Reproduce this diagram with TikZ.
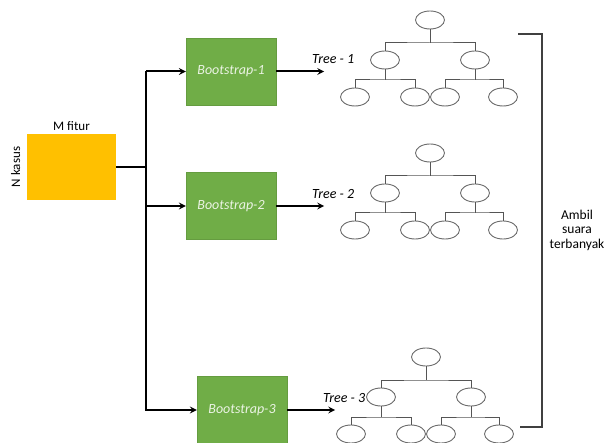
\documentclass[tikz,border=0pt]{standalone}
\usepackage{fontspec}
\setmainfont{Carlito}
\usetikzlibrary{shapes,arrows,positioning,calc}
\definecolor{bootgreen}{HTML}{70AD47}
\definecolor{dataorange}{HTML}{FFC000}
\definecolor{treegray}{HTML}{6A6A6A}

\begin{document}
\begin{tikzpicture}[x=1pt, y=-1pt, font=\fontsize{13}{15}\selectfont]

% Define styles
\tikzstyle{data_box} = [rectangle, minimum width=89pt, minimum height=66pt, fill=dataorange, inner sep=0pt]
\tikzstyle{bootstrap} = [rectangle, minimum width=90pt, minimum height=67pt, draw=bootgreen!90!black, line width=0.4pt, fill=bootgreen, text=white!85!bootgreen, font=\fontsize{14}{16}\selectfont\itshape]
\tikzstyle{tree_node} = [ellipse, minimum width=29pt, minimum height=18pt, draw=treegray, line width=0.9pt, inner sep=0pt]
\tikzstyle{tree_edge} = [draw=treegray!80!black, line width=1pt]
\tikzstyle{arrow} = [line width=2pt, ->, >=stealth]
\tikzstyle{feed_line} = [line width=2pt]

\useasboundingbox (0,0) rectangle (607,443);

% Data set
\node (data) [data_box] at (71.5,167) {};
\node (fitur) [above=0pt of data] {M fitur};
\node (kasus) [left=3pt of data, rotate=90, anchor=south] {N kasus};

% Bootstrap samples
\node (boot_1) [bootstrap] at (231,71.5) {Bootstrap-1};
\node (boot_2) [bootstrap] at (231,206) {Bootstrap-2};
\node (boot_3) [bootstrap] at (242,410) {Bootstrap-3};

% Connect data to samples
\coordinate (split) at (146,167);
\draw [feed_line] (data.east) -- (split);
\draw [arrow] (split |- boot_1) -- (boot_1.west);
\draw [arrow] (split |- boot_2) -- (boot_2.west);
\draw [arrow] (split |- boot_1) |- (boot_3.west);

% Trees
\foreach \t/\rx/\ry in {1/430/20, 2/430/153, 3/426/357} {
  \draw [arrow] (boot_\t.east) -- ++(48,0) coordinate (tip_\t);
  \node (lbl_\t) [above=4pt of tip_\t, xshift=9pt, font=\fontsize{14}{16}\selectfont\itshape] {Tree - \t};
  \node (t\t_root) [tree_node] at (\rx,\ry) {};
  \node (t\t_l) [tree_node] at (\rx-45,\ry+40) {};
  \node (t\t_r) [tree_node] at (\rx+45,\ry+40) {};
  \node (t\t_ll) [tree_node] at (\rx-75,\ry+77) {};
  \node (t\t_lr) [tree_node] at (\rx-15,\ry+77) {};
  \node (t\t_rl) [tree_node] at (\rx+15,\ry+77) {};
  \node (t\t_rr) [tree_node] at (\rx+73,\ry+77) {};
  \coordinate (t\t_bar) at (\rx,\ry+23);
  \coordinate (t\t_lbar) at (\rx-45,\ry+60);
  \coordinate (t\t_rbar) at (\rx+45,\ry+60);
  \draw [tree_edge] (t\t_root.south) -- (t\t_bar);
  \draw [tree_edge] (t\t_l.north) |- (t\t_bar) -| (t\t_r.north);
  \draw [tree_edge] (t\t_l.south) -- (t\t_lbar);
  \draw [tree_edge] (t\t_ll.north) |- (t\t_lbar) -| (t\t_lr.north);
  \draw [tree_edge] (t\t_r.south) -- (t\t_rbar);
  \draw [tree_edge] (t\t_rl.north) |- (t\t_rbar) -| (t\t_rr.north);
}

% Voting bracket
\coordinate (vote_top) at (518,34);
\coordinate (vote_bot) at (520,427);
\draw [draw=black!75, line width=1.6pt] (vote_top) -- (542,34) |- (vote_bot);
\node (vote) [align=center, font=\fontsize{13.5}{14.5}\selectfont] at (577,230) {Ambil\\suara\\terbanyak};

\end{tikzpicture}
\end{document}
